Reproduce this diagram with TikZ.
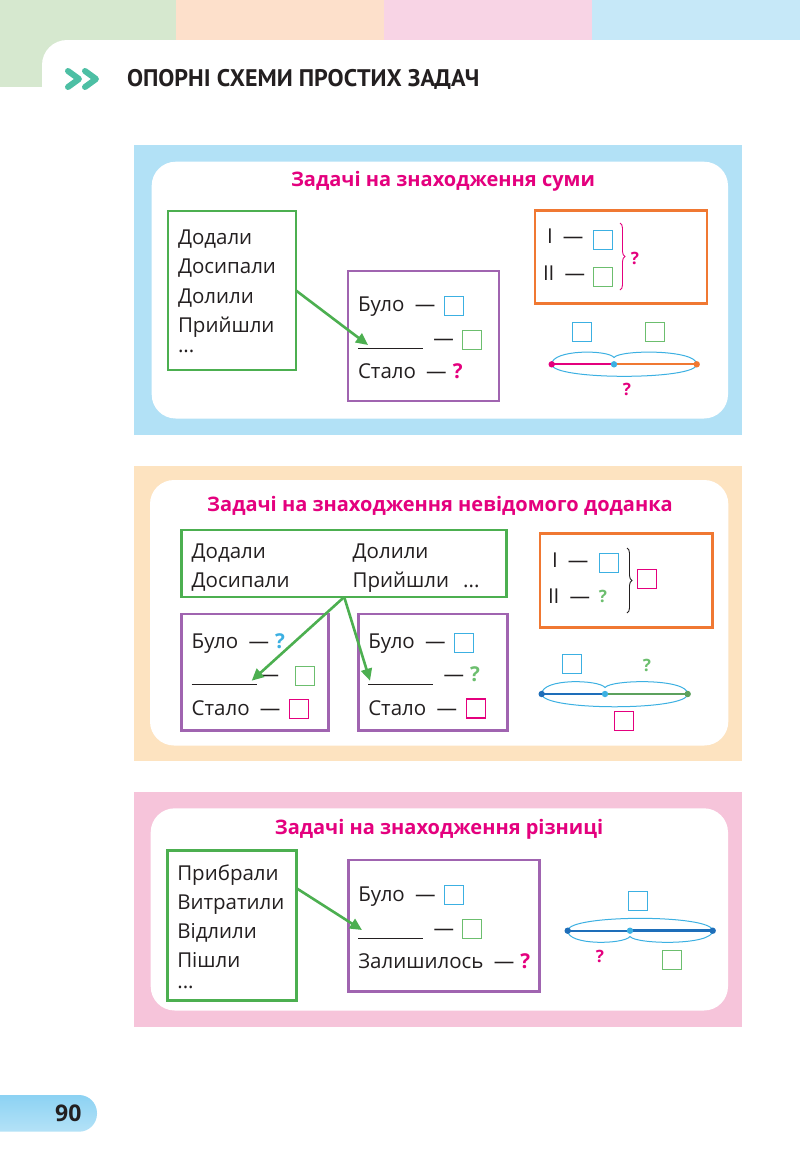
\documentclass[tikz,border=0pt]{standalone}
\usepackage{fontspec}
\setmainfont{Open Sans}
\newfontfamily\headfont{PT Sans}
\usepackage{xcolor}
\definecolor{ink}{RGB}{35,31,32}
\definecolor{mag}{RGB}{228,0,126}
\definecolor{boxgreen}{RGB}{76,175,80}
\definecolor{boxpurple}{RGB}{160,100,176}
\definecolor{boxorange}{RGB}{240,120,50}
\definecolor{sqblue}{RGB}{60,176,226}
\definecolor{sqgreen}{RGB}{108,190,110}
\definecolor{darkblue}{RGB}{30,110,185}
\definecolor{teal}{RGB}{77,191,164}
\definecolor{hgreen}{RGB}{214,232,207}
\definecolor{hpeach}{RGB}{253,224,203}
\definecolor{hpink}{RGB}{248,212,229}
\definecolor{hblue}{RGB}{198,232,248}
\definecolor{bgblue}{RGB}{178,225,246}
\definecolor{bgpeach}{RGB}{253,227,192}
\definecolor{bgpink}{RGB}{246,196,218}
\definecolor{pgblue}{RGB}{140,210,243}
\definecolor{pglight}{RGB}{180,226,247}
\usepackage{tikz}
\usetikzlibrary{positioning,arrows.meta,decorations.pathreplacing}

\newcommand{\dd}{\hspace{0.5em}—\hspace{0.3em}}

\begin{document}
\begin{tikzpicture}[x=1pt, y=-1pt, >={Triangle[length=12pt, width=11pt]},
  every node/.style={inner sep=0pt, outer sep=0pt},
  txt/.style={anchor=base west, text=ink, font=\fontsize{20.5}{24}\selectfont},
  ttl/.style={anchor=base, text=mag, font=\fontsize{20}{24}\selectfont\bfseries},
  frame/.style={draw=#1, line width=2.6pt, anchor=north west},
  sq/.style={draw=#1, line width=1.1pt, minimum size=19pt},
  qm/.style={text=#1, font=\fontsize{17}{20}\selectfont\bfseries},
  arr/.style={->, draw=boxgreen, line width=2.6pt},
  lens/.style={draw=sqblue, line width=1pt}]
\useasboundingbox (0,0) rectangle (800,1160);
\fill[white] (0,0) rectangle (800,1160);

% header
\fill[hgreen] (0,0) rectangle (176,87);
\fill[hpeach] (176,0) rectangle (384,40);
\fill[hpink] (384,0) rectangle (592,40);
\fill[hblue] (592,0) rectangle (800,40);
\fill[white, rounded corners=25pt] (42,40) rectangle (830,130);
\draw[teal, line width=6pt, line cap=round, line join=round] (68,71) -- (79,79) -- (68,87);
\draw[teal, line width=6pt, line cap=round, line join=round] (85,71) -- (96,79) -- (85,87);
\node[anchor=base west, text=ink, font=\headfont\bfseries\fontsize{24}{28}\selectfont] (head) at (127,86.5) {ОПОРНІ СХЕМИ ПРОСТИХ ЗАДАЧ};

% panel 1: sum
\fill[bgblue] (134,145) rectangle (742,435);
\fill[white, rounded corners=24pt] (151.7,161.7) rectangle (728,418.5);
\node[ttl] (t1) at (443,186.7) {Задачі на знаходження суми};
\node[frame=boxgreen, minimum width=128pt, minimum height=159pt] (gb1) at (168,211) {};
\node[txt] (w11) at (178,244) {Додали};
\node[txt] (w12) at (178,273.5) {Досипали};
\node[txt] (w13) at (178,303) {Долили};
\node[txt] (w14) at (178,332) {Прийшли};
\node[txt] (w15) at (178,352) {...};
\node[frame=boxpurple, minimum width=151pt, minimum height=130pt] (pb1) at (348,271) {};
\node[txt] (r11) at (358,311.7) {Було\dd};
\node[sq=sqblue] (s11) at (454.3,306.3) {};
\node[txt] (r12) at (358,345.3) {\rule[-4pt]{65pt}{1.4pt}\dd};
\node[sq=sqgreen] (s12) at (471.7,340) {};
\node[txt] (r13) at (358,378.3) {Стало\dd{\color{mag}\bfseries ?}};
\coordinate (e1) at (368,345);
\draw[arr] (gb1.east) -- (e1);

\node[frame=boxorange, minimum width=172pt, minimum height=93pt] (ob1) at (535,210.7) {};
\node[txt] (i1) at (547,243) {I\dd};
\node[txt] (ii1) at (543,280) {II\dd};
\node[sq=sqblue] (s13) at (603.3,239.7) {};
\node[sq=sqgreen] (s14) at (603.3,277.3) {};
\draw[mag, line width=0.9pt, decorate, decoration={brace, amplitude=5pt}] (620,223) -- (620,290);
\node[qm=mag] (q11) at (635,258) {?};
\node[sq=sqblue] (s15) at (581.7,332.3) {};
\node[sq=sqgreen] (s16) at (655,332.3) {};
\coordinate (a1) at (551.7,364.3);
\coordinate (m1) at (614,364.3);
\coordinate (b1) at (696.7,364.3);
\coordinate (c1) at (614,357.5);
\draw[mag, line width=1.8pt] (a1) -- (m1);
\draw[boxorange, line width=1.8pt] (m1) -- (b1);
\draw[lens] (a1) .. controls +(0,-15) and +(-6,-8) .. (c1) .. controls +(6,-8) and +(0,-15) .. (b1);
\draw[lens] (a1) .. controls +(0,16) and +(0,16) .. (b1);
\fill[mag] (a1) circle (3.2pt);
\fill[sqblue] (m1) circle (3.2pt);
\fill[boxorange] (b1) circle (3.2pt);
\node[qm=mag] (q12) at (627,389) {?};

% panel 2: unknown addend
\fill[bgpeach] (134,466) rectangle (742,761);
\fill[white, rounded corners=24pt] (150,480) rectangle (728.3,745.5);
\node[ttl] (t2) at (440,511.7) {Задачі на знаходження невідомого доданка};
\node[frame=boxgreen, minimum width=325pt, minimum height=67pt] (gb2) at (181.7,530) {};
\node[txt] (w21) at (191.7,558.3) {Додали};
\node[txt] (w22) at (191.7,587.3) {Досипали};
\node[txt] (w23) at (352.7,558.3) {Долили};
\node[txt] (w24) at (352.7,587.3) {Прийшли\hspace{14pt}...};
\node[frame=boxpurple, minimum width=146.6pt, minimum height=116.7pt] (pb2) at (181.7,614) {};
\node[txt] (r21) at (191.7,648.3) {Було\dd{\color{sqblue}\bfseries ?}};
\node[txt] (r22) at (191.7,681) {\rule[-4pt]{65pt}{1.4pt}\hspace{2pt}—};
\node[sq=sqgreen] (s21) at (305.3,676.3) {};
\node[txt] (r23) at (191.7,715) {Стало\dd};
\node[sq=mag] (s22) at (299.3,708.8) {};
\node[frame=boxpurple, minimum width=149.4pt, minimum height=116.7pt] (pb3) at (358.3,614) {};
\node[txt] (r24) at (368.3,648.3) {Було\dd};
\node[sq=sqblue] (s23) at (464.3,643) {};
\node[txt] (r25) at (368.3,681) {\rule[-4pt]{65pt}{1.4pt}\dd{\color{sqgreen}\bfseries ?}};
\node[txt] (r26) at (368.3,715) {Стало\dd};
\node[sq=mag] (s24) at (476,708.5) {};
\coordinate (e2) at (251.7,680.7);
\coordinate (e3) at (370,680.7);
\draw[arr] (gb2.south) -- (e2);
\draw[arr] (gb2.south) -- (e3);

\node[frame=boxorange, minimum width=172.3pt, minimum height=94pt] (ob2) at (540,533.3) {};
\node[txt] (i2) at (552,567) {I\dd};
\node[txt] (ii2) at (548,603) {II\dd};
\node[sq=sqblue] (s25) at (609,563) {};
\node[qm=sqgreen] (q21) at (603,596) {?};
\draw[ink, line width=0.9pt, decorate, decoration={brace, amplitude=5pt}] (627,548) -- (627,613);
\node[sq=mag] (s26) at (647,579.3) {};
\node[sq=sqblue] (s27) at (572.3,664.3) {};
\node[qm=sqgreen] (q22) at (647,665) {?};
\coordinate (a2) at (541.7,694);
\coordinate (m2) at (605,694);
\coordinate (b2) at (687.7,694);
\coordinate (c2) at (605,687.5);
\draw[darkblue, line width=1.8pt] (a2) -- (m2);
\draw[sqgreen!85!black, line width=1.8pt] (m2) -- (b2);
\draw[lens] (a2) .. controls +(0,-16) and +(-6,-8) .. (c2) .. controls +(6,-8) and +(0,-16) .. (b2);
\draw[lens] (a2) .. controls +(0,17) and +(0,17) .. (b2);
\fill[darkblue] (a2) circle (3.2pt);
\fill[sqblue] (m2) circle (3.2pt);
\fill[sqgreen!85!black] (b2) circle (3.2pt);
\node[sq=mag] (s28) at (623.8,721) {};

% panel 3: difference
\fill[bgpink] (134,791.7) rectangle (742,1027.3);
\fill[white, rounded corners=24pt] (150.7,808.3) rectangle (728,1010.5);
\node[ttl] (t3) at (439,834.3) {Задачі на знаходження різниці};
\node[frame=boxgreen, minimum width=129.4pt, minimum height=150pt] (gb3) at (167.3,850.7) {};
\node[txt] (w31) at (177.3,880) {Прибрали};
\node[txt] (w32) at (177.3,909) {Витратили};
\node[txt] (w33) at (177.3,938.3) {Відлили};
\node[txt] (w34) at (177.3,967.7) {Пішли};
\node[txt] (w35) at (177.3,988.3) {...};
\node[frame=boxpurple, minimum width=191pt, minimum height=131.7pt] (pb4) at (348.3,860) {};
\node[txt] (r31) at (358.3,901) {Було\dd};
\node[sq=sqblue] (s31) at (454.3,895.3) {};
\node[txt] (r32) at (358.3,935) {\rule[-4pt]{65pt}{1.4pt}\dd};
\node[sq=sqgreen] (s32) at (471.7,928.8) {};
\node[txt] (r33) at (358.3,968.3) {Залишилось\dd{\color{mag}\bfseries ?}};
\coordinate (e4) at (362,930);
\draw[arr] (gb3.30) -- (e4);

\node[sq=sqblue] (s33) at (638,901) {};
\coordinate (a3) at (567.7,930.7);
\coordinate (m3) at (630,930.7);
\coordinate (b3) at (712.7,930.7);
\coordinate (c3) at (630,936.5);
\draw[darkblue, line width=1.6pt] (a3) -- (m3);
\draw[darkblue, line width=3.5pt] (m3) -- (b3);
\draw[lens] (a3) .. controls +(0,-16.5) and +(0,-16.5) .. (b3);
\draw[lens] (a3) .. controls +(0,15) and +(-6,8) .. (c3) .. controls +(6,8) and +(0,15) .. (b3);
\fill[darkblue] (a3) circle (3.2pt);
\fill[sqblue] (m3) circle (3.2pt);
\fill[darkblue] (b3) circle (3.2pt);
\node[qm=mag] (q31) at (600,956.7) {?};
\node[sq=sqgreen] (s34) at (672,959.7) {};

% page number
\shade[top color=pgblue, bottom color=pglight, rounded corners=18pt] (-40,1095) rectangle (97,1131.7);
\node[anchor=base, text=ink, font=\bfseries\fontsize{23}{26}\selectfont] (pg) at (68.3,1121.7) {90};
\end{tikzpicture}
\end{document}
